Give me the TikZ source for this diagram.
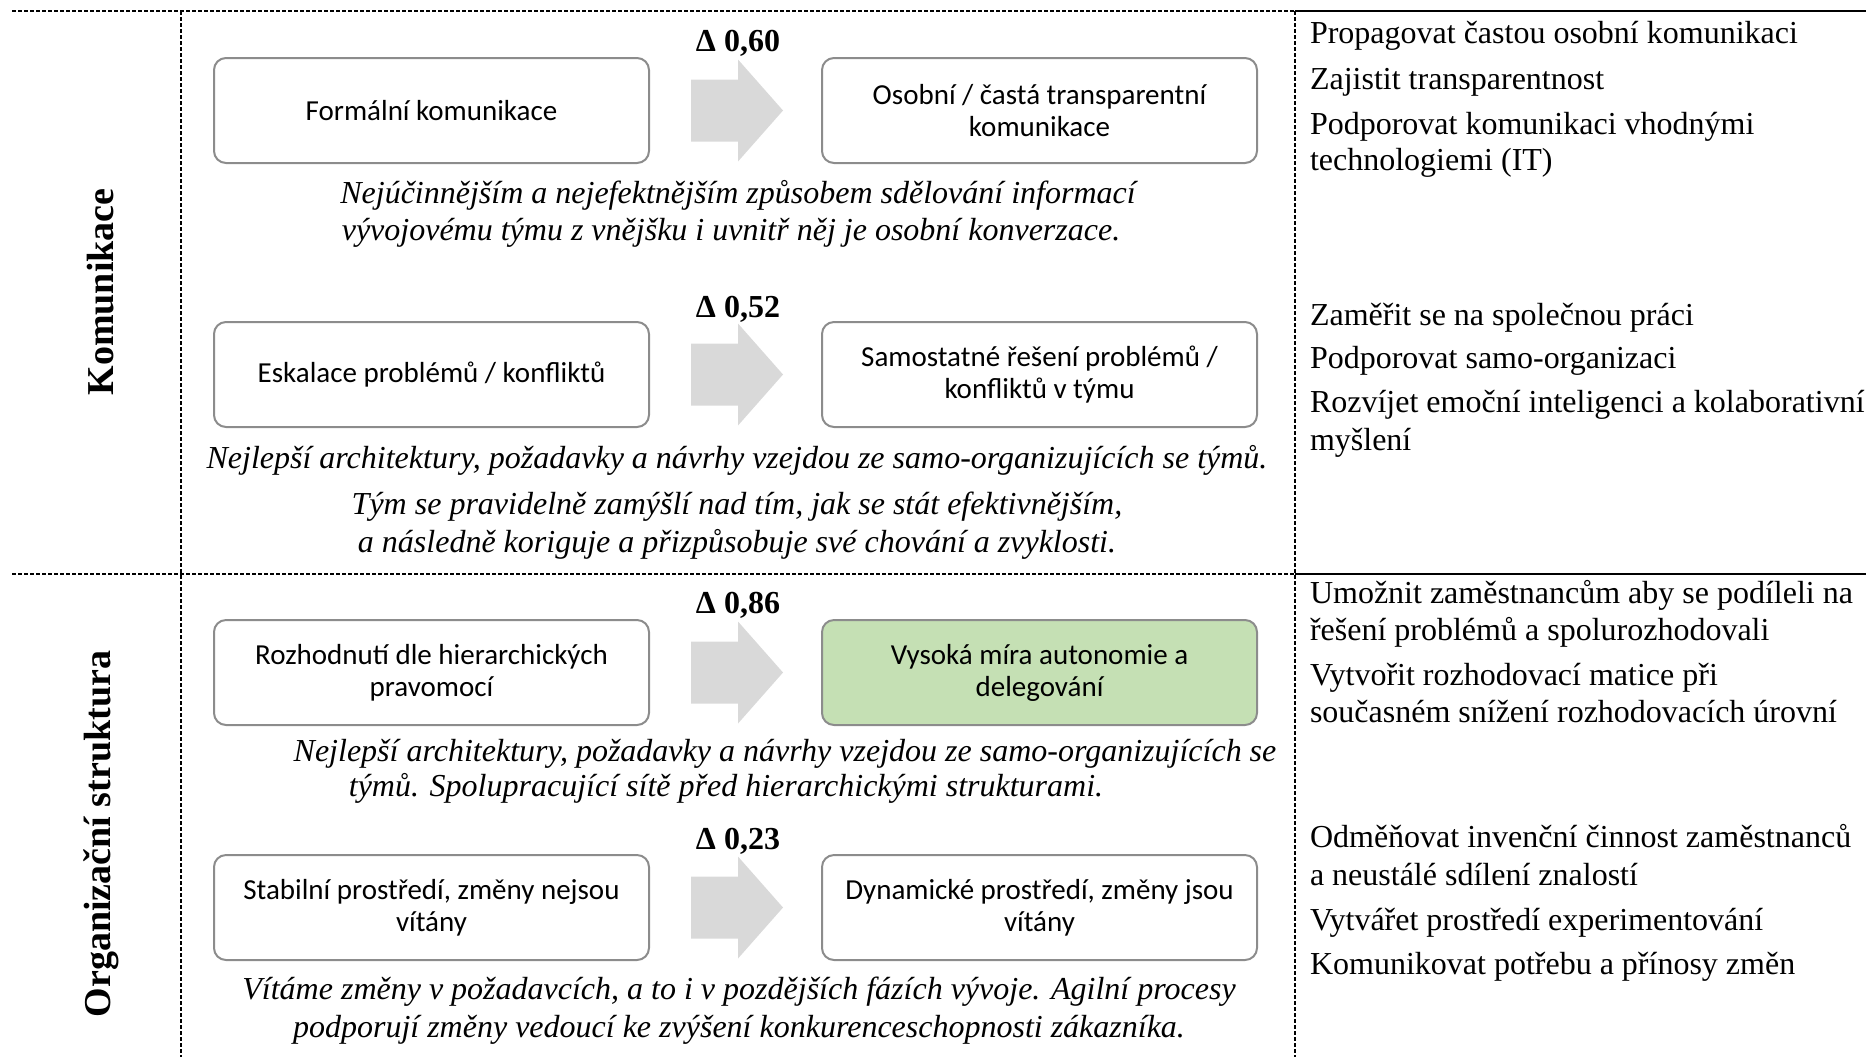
\documentclass[tikz,border=0pt]{standalone}
\usepackage{fontspec}
\setmainfont{Liberation Serif}
\newfontfamily\boxfont{Carlito}
\definecolor{boxgray}{HTML}{8C8C8C}
\definecolor{arrowgray}{HTML}{D9D9D9}
\definecolor{boxgreen}{HTML}{C5E0B4}
\tikzset{
 every node/.style={inner sep=0pt, outer sep=0pt},
 sepline/.style={line width=0.7pt, dash pattern=on 2pt off 1pt},
 solidline/.style={line width=1pt},
 stepbox/.style={draw=boxgray, line width=1pt, rounded corners=6pt, minimum width=217.5pt, minimum height=52.5pt, align=center, font=\boxfont\fontsize{14.5}{16}\selectfont, fill=white},
 greenbox/.style={stepbox, fill=boxgreen},
 delta/.style={font=\fontsize{16}{18}\selectfont\bfseries, anchor=base},
 quote/.style={font=\fontsize{16}{18}\selectfont\itshape, anchor=base},
 tipline/.style={font=\fontsize{16}{18}\selectfont, anchor=base west},
 rowlabel/.style={font=\fontsize{19}{21}\selectfont\bfseries, rotate=90},
 blockarrow/.style={fill=arrowgray},
}
\begin{document}
\begin{tikzpicture}[x=0.5pt,y=-0.5pt]
\useasboundingbox (0,0) rectangle (1866,1057);
% grid lines
\coordinate (tl) at (12,11);
\coordinate (tm) at (1295,11);
\coordinate (tr) at (1866,11);
\coordinate (ml) at (12,574);
\coordinate (mm) at (1295,574);
\coordinate (mr) at (1866,574);
\coordinate (v1t) at (181,11);
\coordinate (v1b) at (181,1057);
\coordinate (v2t) at (1295,11);
\coordinate (v2b) at (1295,1057);
\draw[sepline] (tl) -- (tm);
\draw[solidline] (tm) -- (tr);
\draw[sepline] (ml) -- (mm);
\draw[solidline] (mm) -- (mr);
\draw[sepline] (v1t) -- (v1b);
\draw[sepline] (v2t) -- (v2b);

% row labels
\node[rowlabel] (lab1) at (101,292) {Komunikace};
\node[rowlabel] (lab2) at (101,834) {Organizační struktura};

% row 1
\node[delta] (d1) at (738,51) {Δ 0,60};
\node[stepbox] (a1) at (431.5,110.5) {Formální komunikace};
\node[stepbox] (b1) at (1039.5,110.5) {Osobní / častá transparentní\\komunikace};
\coordinate (c1) at (737,110.5);
\begin{scope}[shift={(c1)}]
\fill[blockarrow] (-46,-31) -- (1,-31) -- (1,-51) -- (46,0) -- (1,51) -- (1,31) -- (-46,31) -- cycle;
\end{scope}
\node[quote] (q11) at (738,203) {Nejúčinnějším a nejefektnějším způsobem sdělování informací};
\node[quote] (q12) at (731,240) {vývojovému týmu z vnějšku i uvnitř něj je osobní konverzace.};

% row 2
\node[delta] (d2) at (738,317) {Δ 0,52};
\node[stepbox] (a2) at (431.5,374.5) {Eskalace problémů / konfliktů};
\node[stepbox] (b2) at (1039.5,374.5) {Samostatné řešení problémů /\\konfliktů v týmu};
\coordinate (c2) at (737,374.5);
\begin{scope}[shift={(c2)}]
\fill[blockarrow] (-46,-31) -- (1,-31) -- (1,-51) -- (46,0) -- (1,51) -- (1,31) -- (-46,31) -- cycle;
\end{scope}
\node[quote] (q21) at (737,468) {Nejlepší architektury, požadavky a návrhy vzejdou ze samo-organizujících se týmů.};
\node[quote] (q22) at (737,514) {Tým se pravidelně zamýšlí nad tím, jak se stát efektivnějším,};
\node[quote] (q23) at (737,552) {a následně koriguje a přizpůsobuje své chování a zvyklosti.};

% row 3
\node[delta] (d3) at (738,613) {Δ 0,86};
\node[stepbox] (a3) at (431.5,672.5) {Rozhodnutí dle hierarchických\\pravomocí};
\node[greenbox] (b3) at (1039.5,672.5) {Vysoká míra autonomie a\\delegování};
\coordinate (c3) at (737,672.5);
\begin{scope}[shift={(c3)}]
\fill[blockarrow] (-46,-31) -- (1,-31) -- (1,-51) -- (46,0) -- (1,51) -- (1,31) -- (-46,31) -- cycle;
\end{scope}
\node[quote] (q31) at (785,761) {Nejlepší architektury, požadavky a návrhy vzejdou ze samo-organizujících se};
\node[quote] (q32) at (726,796) {týmů. Spolupracující sítě před hierarchickými strukturami.};

% row 4
\node[delta] (d4) at (738,849) {Δ 0,23};
\node[stepbox] (a4) at (431.5,907.5) {Stabilní prostředí, změny nejsou\\vítány};
\node[stepbox] (b4) at (1039.5,907.5) {Dynamické prostředí, změny jsou\\vítány};
\coordinate (c4) at (737,907.5);
\begin{scope}[shift={(c4)}]
\fill[blockarrow] (-46,-31) -- (1,-31) -- (1,-51) -- (46,0) -- (1,51) -- (1,31) -- (-46,31) -- cycle;
\end{scope}
\node[quote] (q41) at (739,999) {Vítáme změny v požadavcích, a to i v pozdějších fázích vývoje. Agilní procesy};
\node[quote] (q42) at (739,1037) {podporují změny vedoucí ke zvýšení konkurenceschopnosti zákazníka.};

% right column
\node[tipline] (t1) at (1310,43) {Propagovat častou osobní komunikaci};
\node[tipline] (t2) at (1310,89) {Zajistit transparentnost};
\node[tipline] (t3a) at (1310,134) {Podporovat komunikaci vhodnými};
\node[tipline] (t3b) at (1310,170) {technologiemi (IT)};
\node[tipline] (t4) at (1310,325) {Zaměřit se na společnou práci};
\node[tipline] (t5) at (1310,368) {Podporovat samo-organizaci};
\node[tipline] (t6a) at (1310,412) {Rozvíjet emoční inteligenci a kolaborativní};
\node[tipline] (t6b) at (1310,450) {myšlení};
\node[tipline] (t7a) at (1310,603) {Umožnit zaměstnancům aby se podíleli na};
\node[tipline] (t7b) at (1310,640) {řešení problémů a spolurozhodovali};
\node[tipline] (t8a) at (1310,685) {Vytvořit rozhodovací matice při};
\node[tipline] (t8b) at (1310,722) {současném snížení rozhodovacích úrovní};
\node[tipline] (t9a) at (1310,847) {Odměňovat invenční činnost zaměstnanců};
\node[tipline] (t9b) at (1310,885) {a neustálé sdílení znalostí};
\node[tipline] (t10) at (1310,930) {Vytvářet prostředí experimentování};
\node[tipline] (t11) at (1310,974) {Komunikovat potřebu a přínosy změn};
\end{tikzpicture}
\end{document}
